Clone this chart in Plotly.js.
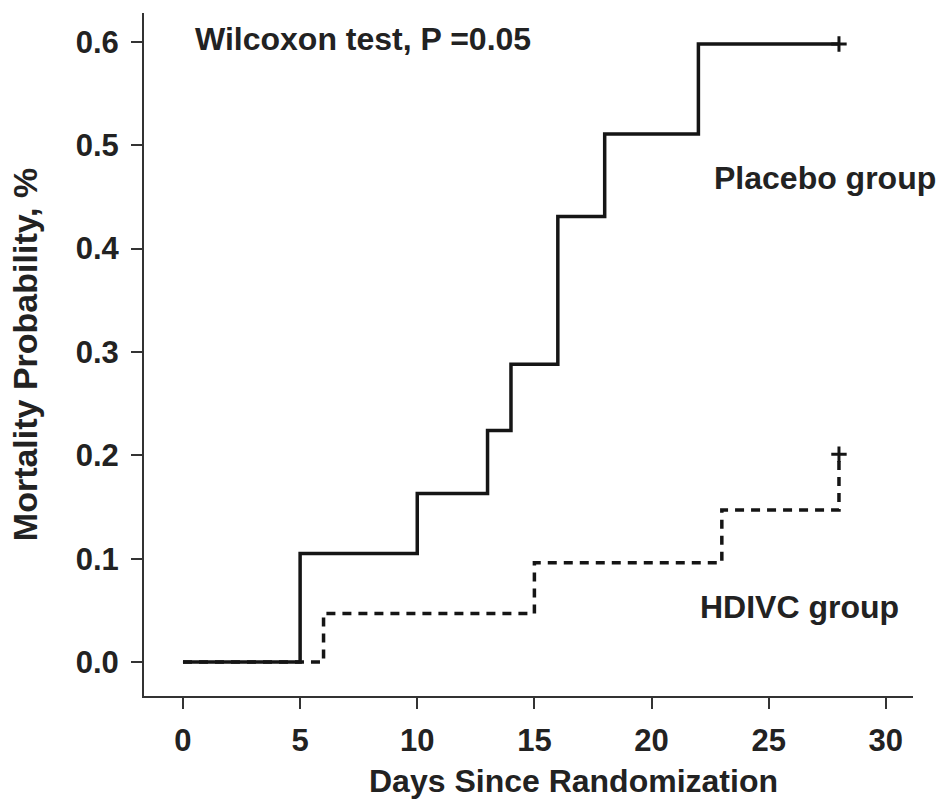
<!DOCTYPE html>
<html>
<head>
<meta charset="utf-8">
<script src="https://cdn.plot.ly/plotly-3.0.1.min.js"></script>
<style>html,body{margin:0;padding:0;background:#fff;}#chart{width:940px;height:803px;}</style>
</head>
<body>
<div id="chart"></div>
<script>
const placeboDays = [0, 5, 10, 13, 14, 16, 18, 22, 28];
const placeboMort = [0, 0.105, 0.163, 0.224, 0.288, 0.431, 0.511, 0.598, 0.598];
const hdivcDays = [0, 6, 15, 23, 28];
const hdivcMort = [0, 0.047, 0.096, 0.147, 0.201];
const xTicks = [0, 5, 10, 15, 20, 25, 30];
const yTicks = [0, 0.1, 0.2, 0.3, 0.4, 0.5, 0.6];

const FONT = "Liberation Sans, Arial, sans-serif";
const FS = 32;
const TFS = 31;
const C = "#222";

const traces = [
  {x: hdivcDays, y: hdivcMort, mode: "lines", line: {shape: "hv", color: "#151515", width: 3.5, dash: "9px,7px"}, name: "HDIVC group", hoverinfo: "skip"},
  {x: placeboDays, y: placeboMort, mode: "lines", line: {shape: "hv", color: "#151515", width: 3.5}, name: "Placebo group", hoverinfo: "skip"},
  {x: [placeboDays[placeboDays.length-1], hdivcDays[hdivcDays.length-1]],
   y: [placeboMort[placeboMort.length-1], hdivcMort[hdivcMort.length-1]],
   mode: "markers", marker: {symbol: "cross-thin", size: 11, line: {width: 3, color: "#151515"}}, hoverinfo: "skip", name: "censored"}
];

const layout = {
  width: 940, height: 803,
  margin: {l: 144, r: 27, t: 13, b: 107, pad: 0},
  paper_bgcolor: "#fff", plot_bgcolor: "#fff",
  showlegend: false,
  font: {family: FONT, size: FS, color: C, weight: "bold"},
  xaxis: {
    range: [-1.664, 31.16], tickvals: xTicks, ticktext: xTicks.map(String),
    showline: true, linecolor: "#333", linewidth: 2, mirror: false,
    ticks: "outside", ticklen: 11, tickwidth: 2, tickcolor: "#333",
    showgrid: false, zeroline: false,
    tickfont: {family: FONT, size: TFS, color: C, weight: "bold"},
    ticklabelstandoff: 5
  },
  yaxis: {
    range: [-0.0329, 0.628], tickvals: yTicks, ticktext: yTicks.map(v => v.toFixed(1)),
    showline: true, linecolor: "#333", linewidth: 2,
    ticks: "outside", ticklen: 11, tickwidth: 2, tickcolor: "#333",
    showgrid: false, zeroline: false,
    tickfont: {family: FONT, size: TFS, color: C, weight: "bold"},
    ticklabelstandoff: 6,
    title: {text: "Mortality Probability, %", font: {family: FONT, size: 34, color: C, weight: "bold"}, standoff: 28}
  },
  annotations: [
    {xref: "paper", yref: "paper", x: (573-144)/769, y: -(801-696)/683, xanchor: "center", yanchor: "bottom",
     text: "Days Since Randomization", showarrow: false, font: {family: FONT, size: FS, color: C, weight: "bold"}},
    {xref: "paper", yref: "paper", x: (193-144)/769, y: (696-39)/683, xanchor: "left", yanchor: "middle",
     text: "Wilcoxon test, P =0.05", showarrow: false, font: {family: FONT, size: FS, color: C, weight: "bold"}},
    {xref: "paper", yref: "paper", x: (712-144)/769, y: (696-178)/683, xanchor: "left", yanchor: "middle",
     text: "Placebo group", showarrow: false, font: {family: FONT, size: FS, color: C, weight: "bold"}},
    {xref: "paper", yref: "paper", x: (698-144)/769, y: (696-607)/683, xanchor: "left", yanchor: "middle",
     text: "HDIVC group", showarrow: false, font: {family: FONT, size: FS, color: C, weight: "bold"}}
  ]
};

Plotly.newPlot("chart", traces, layout, {displayModeBar: false, staticPlot: true});
</script>
</body>
</html>
